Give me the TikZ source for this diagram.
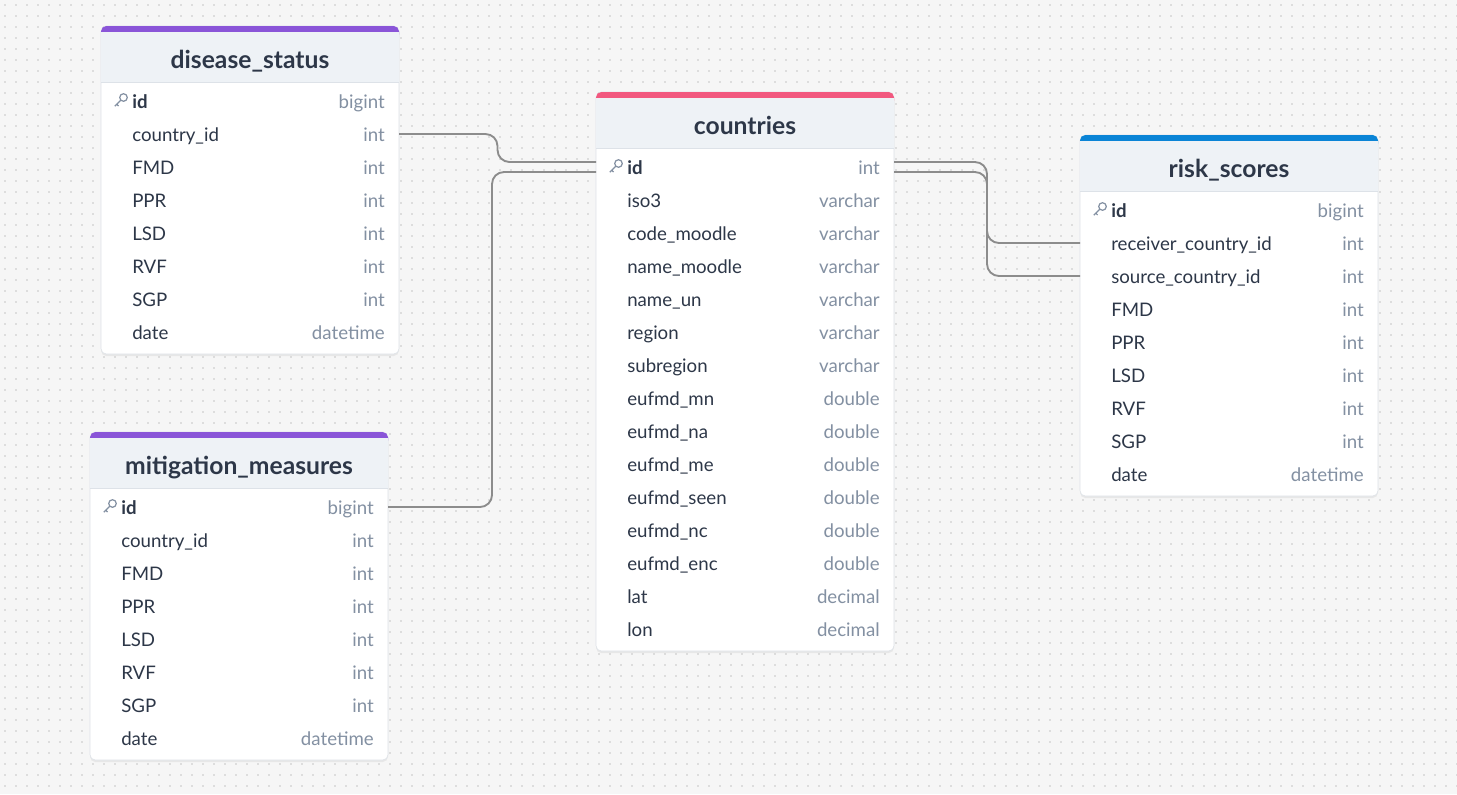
\documentclass[tikz,border=0pt]{standalone}
\usepackage{fontspec}
\setmainfont{Lato}
\usetikzlibrary{calc,shadows}

\definecolor{bgc}{HTML}{F6F6F6}
\definecolor{dotc}{HTML}{C4C4C4}
\definecolor{hdrc}{HTML}{EEF2F6}
\definecolor{namec}{HTML}{2D3748}
\definecolor{typec}{HTML}{8390A2}
\definecolor{edgec}{HTML}{DDE2E8}
\definecolor{linkc}{HTML}{8C8C8C}
\definecolor{purplec}{HTML}{8A55D8}
\definecolor{pinkc}{HTML}{F2587F}
\definecolor{bluec}{HTML}{0A84D6}

\tikzset{
  title/.style={anchor=base, font=\fontsize{18.5}{22}\selectfont\bfseries, text=namec, inner sep=0pt},
  colname/.style={anchor=base west, font=\fontsize{14}{17}\selectfont, text=namec, inner sep=0pt},
  coltype/.style={anchor=base east, font=\fontsize{14}{17}\selectfont, text=typec, inner sep=0pt},
  link/.style={draw=linkc, line width=1.4pt, rounded corners=9},
}

% #1 prefix, #2 title, #3 x, #4 top, #5 colour, #6 number of rows, #7 rows
\newcommand\dbtable[7]{
  \fill[white, drop shadow={opacity=.12, shadow xshift=0pt, shadow yshift=-1.5pt}, rounded corners=4]
    (#3,#4) rectangle ++(298,56+#6*33+8);
  \draw[edgec, rounded corners=4] (#3,#4) rectangle ++(298,56+#6*33+8);
  \fill[#5, rounded corners=4] (#3,#4) rectangle ++(298,14);
  \fill[hdrc] (#3,#4+6) rectangle ++(298,50);
  \draw[edgec] (#3,#4+56) -- ++(298,0);
  \node[title] (#1-title) at (#3+149,#4+42) {#2};
  \foreach \n/\t [count=\i] in {#7} {
    \coordinate (#1-\i-l) at (#3,#4+56+\i*33-14);
    \coordinate (#1-\i-r) at (#3+298,#4+56+\i*33-14);
    \ifnum\i=1
      \node[colname, font=\fontsize{14}{17}\selectfont\bfseries] (#1-\i) at (#3+31,#4+56+\i*33-7) {\n};
      % key icon
      \draw[typec, line width=.9pt] (#3+22.5,#4+56+\i*33-17.5) circle (3.8)
        (#3+19.8,#4+56+\i*33-14.8) -- ++(-6,6) ++(2,-2) -- ++(1.8,1.8);
    \else
      \node[colname] (#1-\i) at (#3+31,#4+56+\i*33-7) {\n};
    \fi
    \node[coltype] (#1-\i-t) at (#3+284,#4+56+\i*33-7) {\t};
  }
}

\begin{document}
\begin{tikzpicture}[x=0.75pt,y=-0.75pt]
  \fill[bgc] (0,0) rectangle (1457,794);
  \useasboundingbox (0,0) rectangle (1457,794);
  \foreach \i in {0,...,132}
    \draw[dotc, line width=1.2pt, line cap=round, dash pattern=on 0pt off 8.25pt] (5+\i*11,5) -- (5+\i*11,794);

  \dbtable{ds}{disease\_status}{101}{26}{purplec}{8}{id/bigint, country\_id/int, FMD/int, PPR/int, LSD/int, RVF/int, SGP/int, date/datetime}
  \dbtable{mm}{mitigation\_measures}{90}{432}{purplec}{8}{id/bigint, country\_id/int, FMD/int, PPR/int, LSD/int, RVF/int, SGP/int, date/datetime}
  \dbtable{co}{countries}{596}{92}{pinkc}{15}{id/int, iso3/varchar, code\_moodle/varchar, name\_moodle/varchar, name\_un/varchar, region/varchar, subregion/varchar, eufmd\_mn/double, eufmd\_na/double, eufmd\_me/double, eufmd\_seen/double, eufmd\_nc/double, eufmd\_enc/double, lat/decimal, lon/decimal}
  \dbtable{rs}{risk\_scores}{1080}{135}{bluec}{9}{id/bigint, receiver\_country\_id/int, source\_country\_id/int, FMD/int, PPR/int, LSD/int, RVF/int, SGP/int, date/datetime}

  % relations
  \coordinate (co-a-l) at ($(co-1-l)+(0,-5)$);
  \coordinate (co-b-l) at ($(co-1-l)+(0,5)$);
  \coordinate (co-a-r) at ($(co-1-r)+(0,-5)$);
  \coordinate (co-b-r) at ($(co-1-r)+(0,5)$);
  \coordinate (m1) at ($(ds-2-r)!.5!(co-a-l)$);
  \coordinate (m2) at ($(mm-1-r)!.5!(co-b-l)$);
  \coordinate (m3) at ($(co-a-r)!.5!(rs-2-l)$);
  \draw[link] (ds-2-r) -- (ds-2-r -| m1) -- (m1 |- co-a-l) -- (co-a-l);
  \draw[link] (mm-1-r) -- (mm-1-r -| m2) -- (m2 |- co-b-l) -- (co-b-l);
  \draw[link] (co-a-r) -- (co-a-r -| m3) -- (m3 |- rs-2-l) -- (rs-2-l);
  \draw[link] (co-b-r) -- (co-b-r -| m3) -- (m3 |- rs-3-l) -- (rs-3-l);
\end{tikzpicture}
\end{document}
